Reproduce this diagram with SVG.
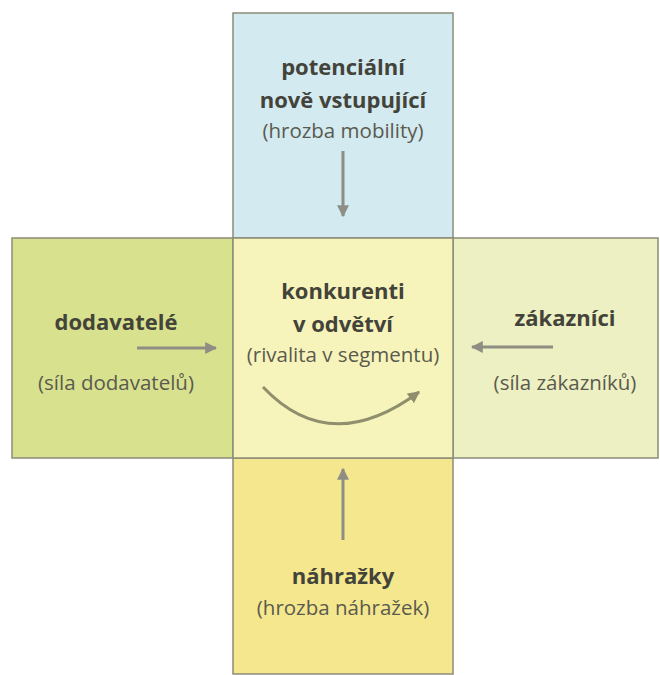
<svg xmlns="http://www.w3.org/2000/svg" width="660" height="675" viewBox="0 0 660 675">
  <style>
    .box { stroke: #8c8c78; stroke-width: 1.5; }
    .title { font-family: "Open Sans", "Noto Sans", sans-serif; font-weight: bold; font-size: 22px; fill: #43433a; text-anchor: middle; }
    .sub { font-family: "Open Sans", "Noto Sans", sans-serif; font-size: 20.5px; fill: #5a5a4e; text-anchor: middle; }
    .arrow { stroke: #8e8e84; stroke-width: 3; fill: none; }
  </style>
  <defs>
    <marker id="head" viewBox="0 0 10 10" refX="9" refY="5" markerWidth="4" markerHeight="4" orient="auto">
      <path d="M0,0 L10,5 L0,10 z" fill="#8e8e84"/>
    </marker>
    <marker id="headCurve" viewBox="0 0 10 10" refX="9" refY="5" markerWidth="4" markerHeight="4" orient="auto">
      <path d="M0,0 L10,5 L0,10 z" fill="#8f8f6e"/>
    </marker>
  </defs>
  <rect width="660" height="675" fill="#ffffff"/>

  <g id="potencialni">
    <rect class="box" x="233" y="13" width="220" height="225" fill="#d2eaf0"/>
    <text class="title" x="343" y="75">potenciální</text>
    <text class="title" x="343" y="108">nově vstupující</text>
    <text class="sub" x="343" y="138">(hrozba mobility)</text>
  </g>

  <g id="dodavatele">
    <rect class="box" x="12" y="238" width="221" height="220" fill="#d8e18e"/>
    <text class="title" x="116" y="330">dodavatelé</text>
    <text class="sub" x="116" y="390">(síla dodavatelů)</text>
  </g>

  <g id="zakaznici">
    <rect class="box" x="453" y="238" width="205" height="220" fill="#ecf0c2"/>
    <text class="title" x="565" y="326">zákazníci</text>
    <text class="sub" x="565" y="390">(síla zákazníků)</text>
  </g>

  <g id="nahrazky">
    <rect class="box" x="233" y="458" width="220" height="216" fill="#f4e78e"/>
    <text class="title" x="343" y="584">náhražky</text>
    <text class="sub" x="343" y="615">(hrozba náhražek)</text>
  </g>

  <g id="konkurenti">
    <rect class="box" x="233" y="238" width="220" height="220" fill="#f7f4bb"/>
    <text class="title" x="343" y="299">konkurenti</text>
    <text class="title" x="343" y="332">v odvětví</text>
    <text class="sub" x="343" y="362">(rivalita v segmentu)</text>
  </g>

  <g id="connectors">
    <line class="arrow" x1="343" y1="151" x2="343" y2="216" marker-end="url(#head)"/>
    <line class="arrow" x1="137" y1="348" x2="216" y2="348" marker-end="url(#head)"/>
    <line class="arrow" x1="553" y1="347" x2="472" y2="347" marker-end="url(#head)"/>
    <line class="arrow" x1="343" y1="540" x2="343" y2="469" marker-end="url(#head)"/>
    <path d="M263,387 Q330,458 419,392" stroke="#8f8f6e" stroke-width="3" fill="none" marker-end="url(#headCurve)"/>
  </g>
</svg>
